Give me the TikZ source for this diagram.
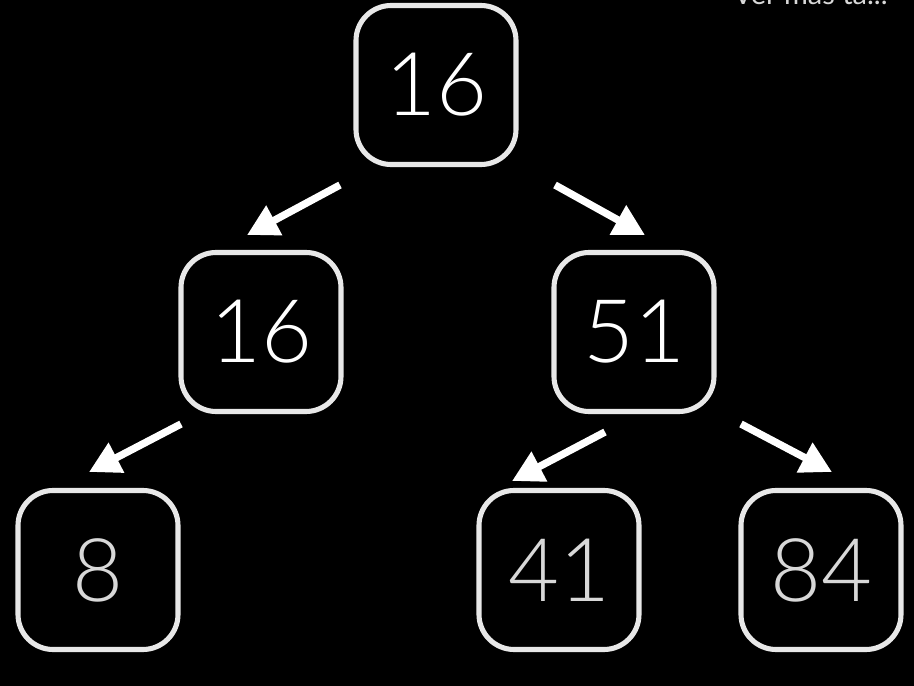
\documentclass[tikz,border=0pt]{standalone}
\usepackage{fontspec}
\setmainfont{Lato}
\newfontfamily\boxfont{Lato Light}
\usepackage{tikz}
\usetikzlibrary{positioning}
\usetikzlibrary{shapes,calc,arrows.meta}

\begin{document}
\begin{tikzpicture}[x=0.02cm,y=-0.02cm,
  key node/.style={draw=boxline,line width=2.9,rounded corners=20,minimum width=160*0.02cm,
    minimum height=159*0.02cm,inner sep=0,text=white,font=\boxfont\fontsize{50}{50}\selectfont},
  low node/.style={key node,text=lowtext},
  tree edge/.style={-{Triangle[length=0.62cm,width=0.64cm]},line width=4.2pt,draw=white}]
\definecolor{boxline}{HTML}{E8E8E8}
\definecolor{lowtext}{HTML}{D8D8D8}
\fill[black] (0,0) rectangle (914,686);
\useasboundingbox (0,0) rectangle (914,686);
\clip (0,0) rectangle (914,686);
\node[anchor=base west,text=lowtext,font=\fontsize{16.5}{16.5}\selectfont,inner sep=0] at (733,5) (hint) {Ver más ta...};
\node[key node] at (436,85) (root) {16};
\node[key node] at (261,332) (left) {16};
\node[key node] at (634,332) (right) {51};
\node[low node] at (98,570) (leftleft) {8};
\node[low node] at (559,570) (rightleft) {41};
\node[low node] at (821,570) (rightright) {84};
\coordinate (rootL) at (340,185);
\coordinate (leftT) at (247,235);
\coordinate (rootR) at (555,185);
\coordinate (rightT) at (645,235);
\coordinate (leftB) at (181,424);
\coordinate (leftleftT) at (89,472);
\coordinate (rightBL) at (605,432);
\coordinate (rightleftT) at (512,481);
\coordinate (rightBR) at (741,424);
\coordinate (rightrightT) at (832,472);
\draw[tree edge] (rootL) -- (leftT);
\draw[tree edge] (rootR) -- (rightT);
\draw[tree edge] (leftB) -- (leftleftT);
\draw[tree edge] (rightBL) -- (rightleftT);
\draw[tree edge] (rightBR) -- (rightrightT);
\end{tikzpicture}
\end{document}
